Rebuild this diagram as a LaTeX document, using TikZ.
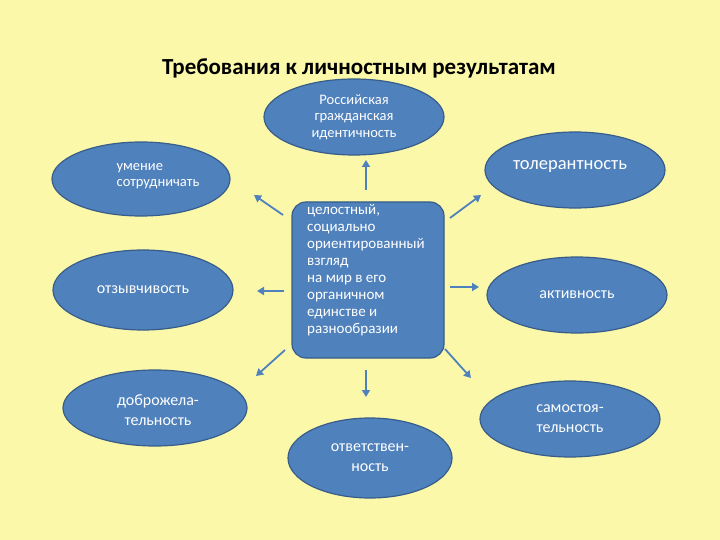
\documentclass[tikz,border=0pt]{standalone}
\usepackage{fontspec}
\setmainfont{Carlito}
\usetikzlibrary{shapes.geometric,arrows.meta}
\definecolor{bg}{HTML}{FBF8AA}
\definecolor{bl}{HTML}{4F81BD}
\definecolor{bd}{HTML}{385D8A}
\tikzset{
 ell/.style={ellipse,fill=bl,draw=bd,line width=1.2pt,minimum width=#1,text=white,align=center},
 ell/.default=180pt,
 sm/.style={font=\fontsize{14.5}{16.5}\selectfont},
 md/.style={font=\fontsize{16}{20}\selectfont},
 arr/.style={-{Triangle[length=7pt,width=8pt]},draw=bl,line width=1.8pt}
}
\begin{document}
\begin{tikzpicture}[x=1pt,y=-1pt]
\fill[bg] (0,0) rectangle (720,540);
\node[font=\bfseries\fontsize{23}{26}\selectfont] (title) at (359,68) {Требования к личностным результатам};
\node[ell,minimum height=76pt,inner sep=0pt,sm] (top) at (354,117) {Российская\\гражданская\\идентичность};
\node[ell,minimum height=76pt] (tol) at (575,170) {};
\node[text=white,font=\fontsize{18.5}{21}\selectfont] (tolt) at (570,166) {толерантность};
\node[ell,minimum width=178pt,minimum height=74pt] (um) at (141,179) {};
\node[text=white,sm,align=left] (umt) at (158,176) {умение\\сотрудничать};
\node[ell,minimum height=80pt,inner sep=0pt,md] (otz) at (143,290) {отзывчивость};
\node[ell,minimum height=76pt,inner sep=0pt,md] (akt) at (577,295) {активность};
\node[ell,minimum width=184pt,minimum height=76pt] (dob) at (155,408) {};
\node[text=white,md,align=center] (dobt) at (158,410) {доброжела-\\тельность};
\node[ell,minimum height=76pt,inner sep=0pt,md] (sam) at (570,419) {самостоя-\\тельность};
\node[ell,minimum width=164pt,minimum height=80pt,inner sep=0pt,md] (otv) at (370,458) {ответствен-\\ность};
\node[rounded corners=14pt,fill=bl,draw=bd,line width=1.2pt,minimum width=152pt,minimum height=156pt] (c) at (368,280) {};
\node[text=white,font=\fontsize{15}{17}\selectfont,align=left,anchor=north west,inner sep=0pt] (ct) at (307,204) {целостный,\\ социально\\ориентированный\\взгляд\\на мир в его\\органичном\\единстве и\\разнообразии};
\coordinate (a1) at (366,190); \coordinate (b1) at (366,160);
\coordinate (a2) at (283,215); \coordinate (b2) at (254,195);
\coordinate (a3) at (284,291); \coordinate (b3) at (257,291);
\coordinate (a4) at (285,350); \coordinate (b4) at (256,376);
\coordinate (a5) at (366,370); \coordinate (b5) at (366,397);
\coordinate (a6) at (445,349); \coordinate (b6) at (471,378);
\coordinate (a7) at (450,287); \coordinate (b7) at (479,287);
\coordinate (a8) at (450,218); \coordinate (b8) at (481,195);
\foreach \i in {1,...,8} \draw[arr] (a\i) -- (b\i);
\end{tikzpicture}
\end{document}
